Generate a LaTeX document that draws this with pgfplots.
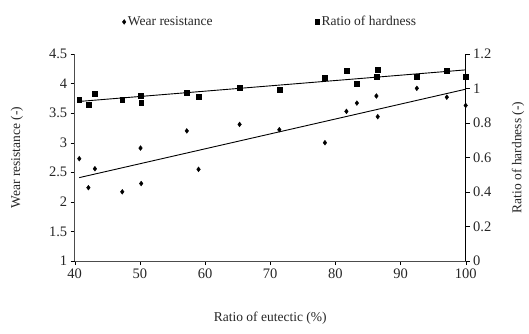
\documentclass[border=0pt]{standalone}
\usepackage{pgfplots}
\pgfplotsset{compat=1.18}
\usepackage{fontspec}
\setmainfont{Liberation Serif}
\newcommand{\fs}{\fontsize{13.5}{16}\selectfont}
\newcommand{\ft}{\fontsize{14.5}{16}\selectfont}
\begin{document}
\begin{tikzpicture}
\pgfplotsset{
  base/.style={
    scale only axis, width=391pt, height=207pt,
    xmin=40, xmax=100,
    /pgf/number format/assume math mode=true,
    tick label style={font=\ft, text=black!85},
    label style={font=\fs, text=black!85},
    tick style={black, thin},
    tick align=outside,
    major tick length=4pt,
  }
}
\begin{axis}[base,
  name=main,
  axis x line*=bottom, axis y line*=left,
  xtick pos=bottom, ytick pos=left,
  axis line style={black!70, line width=0.8pt},
  ymin=1, ymax=4.5, ytick={1,1.5,...,4.5},
  yticklabel style={/pgf/number format/fixed, /pgf/number format/precision=1},
  xtick={40,50,...,100},
  xlabel={Ratio of eutectic (\%)},
  ylabel={Wear resistance (-)},
  xlabel style={at={(axis description cs:0.5,-0.275)}, anchor=center},
  ylabel style={at={(axis description cs:-0.1476,0.5)}, anchor=center},
]
\addplot[only marks, mark=diamond*, mark size=2.4pt, black] coordinates {
(40.7,2.73) (42.1,2.24) (43.1,2.56) (47.3,2.17) (50.1,2.91) (50.2,2.31)
(57.2,3.20) (59.0,2.55) (65.3,3.31) (71.4,3.22) (78.4,3.00) (81.7,3.53)
(83.3,3.67) (86.3,3.79) (86.5,3.44) (92.5,3.92) (97.1,3.77) (100,3.63)
};
\addplot[black, line width=0.9pt] coordinates {(40.7,2.41) (100,3.905)};
\end{axis}
\begin{axis}[base,
  axis x line=none, axis y line*=right,
  ytick pos=right, yticklabel pos=right,
  axis line style={black, line width=0.8pt},
  ymin=0, ymax=1.2, ytick={0,0.2,...,1.2},
  yticklabel style={/pgf/number format/fixed, /pgf/number format/precision=1},
  ylabel={Ratio of hardness (-)},
  ylabel style={at={(axis description cs:1.134,0.5)}, anchor=center},
  legend columns=2,
  legend style={draw=none, fill=none, font=\fs, text=black!85,
    at={(axis description cs:0.5,1.155)}, anchor=center,
    /tikz/every even column/.append style={column sep=100pt}},
  legend cell align=left,
]
\addlegendimage{only marks, mark=diamond*, mark size=2.4pt, black}
\addlegendentry{Wear resistance}
\addplot[only marks, mark=square*, mark size=2.4pt, black] coordinates {
(40.7,0.935) (42.1,0.907) (43.1,0.971) (47.3,0.936) (50.1,0.958) (50.2,0.919)
(57.2,0.977) (59.0,0.954) (65.3,1.006) (71.4,0.994) (78.4,1.064) (81.7,1.104)
(83.3,1.027) (86.5,1.111) (86.3,1.067) (92.5,1.067) (97.1,1.104) (100,1.069)
};
\addlegendentry{Ratio of hardness}
\addplot[black, line width=0.9pt, forget plot] coordinates {(40.7,0.925) (100,1.108)};
\end{axis}
\pgfresetboundingbox
\path[use as bounding box] ([xshift=-74.7pt,yshift=-72pt]main.south west) rectangle ([xshift=454.3pt,yshift=261pt]main.south west);
\end{tikzpicture}
\end{document}
